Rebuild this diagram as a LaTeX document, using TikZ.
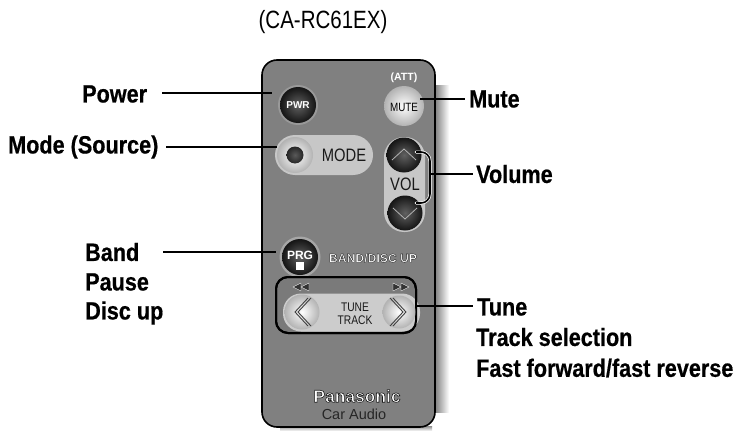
\documentclass[tikz,border=0pt]{standalone}
\usepackage{fontspec}
\setmainfont{Liberation Sans}
\newfontfamily\narrowbold[FakeStretch=0.865,FakeBold=0.6]{Liberation Sans Bold}
\newfontfamily\narrowreg[FakeStretch=0.82]{Liberation Sans}
\newfontfamily\brandbold{Liberation Sans Bold}
\newcommand{\outlined}[2]{\special{pdf:code q 2 Tr #1 w 0.1 G 1 g}#2\special{pdf:code Q}}
\usetikzlibrary{calc}
\tikzset{
  lbl/.style={font=\narrowbold\fontsize{25}{25}\selectfont,anchor=west,inner sep=0pt,text=black},
  lead/.style={draw=black,line width=1.6pt},
  darkbtn/.style={circle,minimum size=#1,inner sep=0pt,inner color=black!62,outer color=black!92},
  lightbtn/.style={circle,minimum size=#1,inner sep=0pt,inner color=white,outer color=black!30},
  pill/.style={fill=black!22},
  btxt/.style={font=\narrowreg\fontsize{18}{18}\selectfont,text=black!90,inner sep=0pt},
  smalltxt/.style={font=\narrowreg\fontsize{12.5}{12.5}\selectfont,text=black!90,inner sep=0pt},
  wtxt/.style={font=\bfseries\fontsize{10}{10}\selectfont,text=white,inner sep=0pt},
  chev/.style={draw=black!75,line width=.9pt,line join=miter},
  tri/.style={fill=black!80,draw=white,line width=.3pt},
}
\begin{document}
\begin{tikzpicture}[x=1pt,y=-1pt]
\useasboundingbox (0,0) rectangle (737,431);
\fill[white] (0,0) rectangle (737,431);
% shadow
\shade[left color=black!50,right color=white] (435,85) rectangle (449,412);
\shade[top color=black!45,bottom color=white] (280,426) rectangle (432,431);
% body
\node[draw=black,line width=1.6pt,fill=black!50,rounded corners=15pt,minimum width=173pt,minimum height=367pt,inner sep=0pt] (body) at (348.5,243.5) {};
\node[font=\narrowreg\fontsize{25}{25}\selectfont,inner sep=0pt] (title) at (323,22) {(CA-RC61EX)};
% PWR
\node[circle,minimum size=40pt,fill=black!40,inner sep=0pt] (pwrring) at (298,105) {};
\node[darkbtn=36pt] (pwr) at (298,105) {};
\node[wtxt] (pwrt) at (298,105) {PWR};
% MUTE
\node[font=\bfseries\fontsize{10.5}{10.5}\selectfont,text=white,inner sep=0pt] (att) at (404,78) {(ATT)};
\node[lightbtn=40pt] (mute) at (404,106) {};
\node[font=\narrowreg\fontsize{12}{12}\selectfont,text=black,inner sep=0pt] (mutet) at (404,107) {MUTE};
% MODE
\node[pill,rounded corners=20pt,minimum width=98pt,minimum height=40pt,inner sep=0pt] (modepill) at (324,155) {};
\node[lightbtn=36pt] (modebtn) at (295,155) {};
\node[circle,minimum size=17pt,inner sep=0pt,inner color=black!65,outer color=black!85] (modedot) at (295,155) {};
\node[btxt] (modet) at (344,155) {MODE};
% VOL
\node[pill,rounded corners=20pt,minimum width=41pt,minimum height=95pt,inner sep=0pt] (volpill) at (404.5,184.5) {};
\node[darkbtn=35pt] (volup) at (404,155) {};
\node[darkbtn=35pt] (voldn) at (405,213) {};
\draw[draw=black!30,line width=.8pt] ($(volup)+(-12,5)$) -- ($(volup)+(0,-6)$) -- ($(volup)+(12,5)$);
\draw[draw=black!30,line width=.8pt] ($(voldn)+(-12,-5)$) -- ($(voldn)+(0,6)$) -- ($(voldn)+(12,-5)$);
\node[btxt] (volt) at (405,184) {VOL};
% bracket
\coordinate (bra) at (416,152);
\coordinate (brb) at (416,203);
\coordinate (brm) at (430,174);
\draw[draw=white,line width=3pt,line cap=round,rounded corners=9pt] (bra) -- (430,152) -- (430,203) -- (brb);
\draw[lead,rounded corners=9pt] (bra) -- (430,152) -- (430,203) -- (brb);
% PRG
\node[circle,minimum size=41pt,fill=black!35,inner sep=0pt] (prgring) at (300,257) {};
\node[darkbtn=36pt] (prg) at (300,257) {};
\node[font=\bfseries\fontsize{12}{12}\selectfont,text=white,inner sep=0pt] (prgt) at (300,255) {PRG};
\node[fill=white,minimum size=8pt,inner sep=0pt] (prgs) at (300,266) {};
\node[font=\brandbold\fontsize{12.2}{12.2}\selectfont,inner sep=0pt] (band) at (373,258) {\outlined{0.35}{BAND/DISC UP}};
% TUNE
\node[draw=black,line width=2pt,fill=black!52,rounded corners=12pt,minimum width=140pt,minimum height=56pt,inner sep=0pt] (tunebox) at (346,305) {};
\node[fill=black!20,rounded corners=18pt,minimum width=137pt,minimum height=38pt,inner sep=0pt] (tunepill) at (351.5,312.5) {};
\draw[draw=black,line width=2pt,rounded corners=12pt] (276,277) rectangle (416,333);
\node[lightbtn=35pt] (tl) at (302,312) {};
\node[lightbtn=33pt] (tr) at (399,312) {};
\draw[chev] ($(tl)+(6,-14)$) -- ($(tl)+(-7,0)$) -- ($(tl)+(6,14)$);
\draw[chev] ($(tl)+(9,-14)$) -- ($(tl)+(-4,0)$) -- ($(tl)+(9,14)$);
\draw[chev] ($(tr)+(-6,-14)$) -- ($(tr)+(7,0)$) -- ($(tr)+(-6,14)$);
\draw[chev] ($(tr)+(-9,-14)$) -- ($(tr)+(4,0)$) -- ($(tr)+(-9,14)$);
\node[smalltxt] (tunet) at (355,307) {TUNE};
\node[smalltxt] (trackt) at (355,320) {TRACK};
\fill[tri] (293,287) -- (301,283) -- (301,291) -- cycle;
\fill[tri] (301,287) -- (309,283) -- (309,291) -- cycle;
\fill[tri] (401,287) -- (393,283) -- (393,291) -- cycle;
\fill[tri] (409,287) -- (401,283) -- (401,291) -- cycle;
% brand
\node[font=\brandbold\fontsize{17.4}{17.4}\selectfont,inner sep=0pt] (pana) at (357,396) {\outlined{0.6}{Panasonic}};
\node[font=\fontsize{14.5}{14.5}\selectfont,text=black!85,inner sep=0pt] (car) at (354,414) {Car Audio};
% labels
\node[lbl] (lpower) at (82,94) {Power};
\node[lbl] (lmode) at (8,147) {Mode (Source)};
\node[lbl] (lband) at (85,252) {Band};
\node[lbl] (lpause) at (85,282) {Pause};
\node[lbl] (ldisc) at (85,313) {Disc up};
\node[lbl] (lmute) at (469,99) {Mute};
\node[lbl] (lvol) at (476,174) {Volume};
\node[lbl] (ltune) at (477,307) {Tune};
\node[lbl] (ltrack) at (476,337) {Track selection};
\node[lbl] (lfast) at (476,368) {Fast forward/fast reverse};
% leaders
\coordinate (c1) at (162,93); \coordinate (c2) at (272,93);
\draw[lead] (c1) -- (c2);
\coordinate (c3) at (277,147); \coordinate (c3b) at (166,147);
\draw[lead] (c3b) -- (c3);
\coordinate (c4) at (163,252); \coordinate (c5) at (276,252);
\draw[lead] (c4) -- (c5);
\coordinate (c6) at (420,99); \coordinate (c6b) at (465,99);
\draw[lead] (c6) -- (c6b);
\coordinate (c8) at (473,174);
\draw[lead] (brm) -- (c8);
\coordinate (c7) at (417,306); \coordinate (c7b) at (473,306);
\draw[lead] (c7) -- (c7b);
\end{tikzpicture}
\end{document}
